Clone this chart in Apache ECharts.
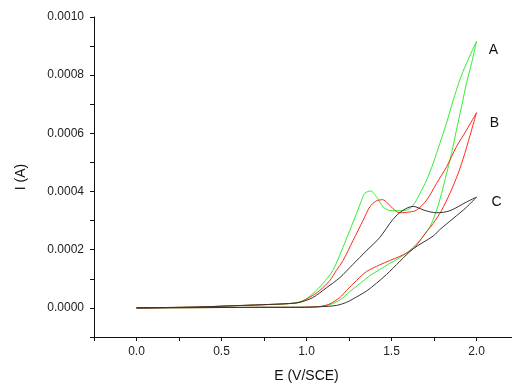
<!DOCTYPE html>
<html>
<head>
<meta charset="utf-8">
<script src="https://cdn.jsdelivr.net/npm/echarts@6/dist/echarts.min.js"></script>
<style>
  html, body {margin: 0; padding: 0; background: #fff;}
  #chart {width: 512px; height: 385px;}
</style>
</head>
<body>
<div id="chart"></div>
<script>
// cyclic voltammograms, [E (V/SCE), I (A)], forward scan then reverse scan
const curveA = [
  [0.00, 0], [0.37, 0.000001], [0.73, 0.000002], [0.96, 0.0000024], [1.08, 0.0000045],
  [1.14, 0.0000114], [1.20, 0.0000286], [1.255, 0.0000562], [1.314, 0.0000838], [1.373, 0.000111],
  [1.431, 0.000132], [1.49, 0.000153], [1.549, 0.000173], [1.608, 0.000198], [1.667, 0.000232],
  [1.725, 0.000278], [1.765, 0.000335], [1.794, 0.000393], [1.824, 0.000462], [1.853, 0.000531],
  [1.882, 0.000611], [1.912, 0.000692], [1.941, 0.000772], [1.971, 0.000841], [2.0, 0.000916],
  [1.941, 0.000841], [1.902, 0.000784], [1.862, 0.000712], [1.824, 0.000636], [1.784, 0.000565],
  [1.745, 0.000497], [1.706, 0.000439], [1.667, 0.000393], [1.627, 0.000353], [1.588, 0.000336],
  [1.537, 0.000334], [1.49, 0.000335], [1.451, 0.000347], [1.414, 0.00038], [1.376, 0.000402],
  [1.343, 0.000394], [1.324, 0.00037], [1.294, 0.000324], [1.255, 0.000267], [1.214, 0.000208],
  [1.155, 0.000129], [1.096, 0.000084], [1.037, 0.000049], [0.979, 0.000025], [0.9, 0.000015],
  [0.74, 0.0000107], [0.55, 0.0000069], [0.35, 0.0000028], [0.00, 0]
];
const curveB = [
  [0.00, 0], [0.37, 0.000001], [0.73, 0.000002], [0.96, 0.0000024], [1.08, 0.000005],
  [1.137, 0.0000138], [1.196, 0.0000355], [1.235, 0.0000597], [1.294, 0.0000941], [1.353, 0.000125],
  [1.431, 0.000148], [1.49, 0.000163], [1.549, 0.000177], [1.627, 0.000203], [1.706, 0.000262],
  [1.745, 0.00029], [1.794, 0.000335], [1.843, 0.000393], [1.892, 0.000462], [1.931, 0.000531],
  [1.971, 0.000611], [2.0, 0.000671],
  [1.941, 0.000611], [1.882, 0.000554], [1.824, 0.000485], [1.765, 0.000428], [1.706, 0.00037],
  [1.647, 0.000336], [1.608, 0.00033], [1.549, 0.000327], [1.509, 0.000341], [1.478, 0.00036],
  [1.447, 0.000372], [1.408, 0.000367], [1.372, 0.000347], [1.333, 0.000301], [1.274, 0.000232],
  [1.215, 0.000163], [1.176, 0.000129], [1.137, 0.0000941], [1.078, 0.0000597], [1.019, 0.0000366],
  [0.961, 0.0000193], [0.9, 0.000015], [0.74, 0.000011], [0.55, 0.000007], [0.35, 0.000003], [0.00, 0]
];
const curveC = [
  [0.00, 0], [0.37, 0.000001], [0.73, 0.000002], [0.96, 0.000002], [1.08, 0.000004],
  [1.176, 0.0000085], [1.235, 0.000019], [1.274, 0.000031], [1.353, 0.000058], [1.412, 0.000085],
  [1.471, 0.000115], [1.549, 0.00016], [1.627, 0.000203], [1.745, 0.000247], [1.784, 0.000269],
  [1.862, 0.000307], [1.941, 0.000346], [2.0, 0.000381],
  [1.941, 0.000364], [1.843, 0.000334], [1.765, 0.000327], [1.696, 0.000335], [1.627, 0.000349],
  [1.566, 0.000335], [1.508, 0.000304], [1.431, 0.000242], [1.355, 0.000198], [1.272, 0.000149],
  [1.196, 0.000104], [1.119, 0.00007], [1.037, 0.0000355], [0.961, 0.0000193], [0.9, 0.000015],
  [0.74, 0.000011], [0.55, 0.000007], [0.35, 0.000003], [0.00, 0]
];
const curveNames = ['A', 'B', 'C'];
const curveColors = ['#33ee33', '#ff2a1a', '#333333'];
const labelOffsets = [[17, 9], [18, 10], [20, 5]];

const chart = echarts.init(document.getElementById('chart'));
const axisFont = {fontFamily: 'Liberation Sans', fontSize: 12, color: '#222'};

function turnPoint(data) {
  return data.reduce((best, p) => (p[0] > best[0] ? p : best), data[0]);
}

const series = [curveA, curveB, curveC].map((data, i) => ({
  name: curveNames[i],
  type: 'line',
  data,
  showSymbol: false,
  smooth: 0.3,
  lineStyle: {color: curveColors[i], width: 1},
  itemStyle: {color: curveColors[i]},
  markPoint: {
    symbol: 'circle',
    symbolSize: 1,
    itemStyle: {color: 'rgba(0,0,0,0)'},
    label: {
      show: true,
      position: 'inside',
      offset: labelOffsets[i],
      formatter: curveNames[i],
      fontFamily: 'Liberation Sans',
      fontSize: 14,
      color: '#111',
    },
    data: [{coord: turnPoint(data)}],
  },
}));

const option = {
  animation: false,
  backgroundColor: '#fff',
  grid: {left: 94, right: -7, top: 17, bottom: 48, outerBoundsMode: 'none', containLabel: false},
  xAxis: {
    type: 'value',
    min: -0.25,
    max: 2.25,
    interval: 0.25,
    name: 'E (V/SCE)',
    nameLocation: 'middle',
    nameGap: 32,
    nameTextStyle: {fontFamily: 'Liberation Sans', fontSize: 14, color: '#111'},
    axisLine: {onZero: false, lineStyle: {color: '#111', width: 1}},
    axisTick: {length: 4, lineStyle: {color: '#111'}},
    axisLabel: {
      ...axisFont,
      margin: 9,
      showMinLabel: true,
      formatter: (v) => (Math.round(v * 100) % 50 === 0 ? v.toFixed(1) : ''),
    },
    splitLine: {show: false},
  },
  yAxis: {
    type: 'value',
    min: -0.0001,
    max: 0.001,
    interval: 0.0001,
    name: 'I (A)',
    nameLocation: 'middle',
    nameGap: 66,
    nameTextStyle: {fontFamily: 'Liberation Sans', fontSize: 14, color: '#111'},
    axisLine: {show: true, onZero: false, lineStyle: {color: '#111', width: 1}},
    axisTick: {show: true, length: 4, lineStyle: {color: '#111'}},
    axisLabel: {
      ...axisFont,
      margin: 10,
      formatter: (v) => (Math.round(v * 10000) % 2 === 0 ? v.toFixed(4) : ''),
    },
    splitLine: {show: false},
  },
  series,
};
chart.setOption(option);
</script>
</body>
</html>
